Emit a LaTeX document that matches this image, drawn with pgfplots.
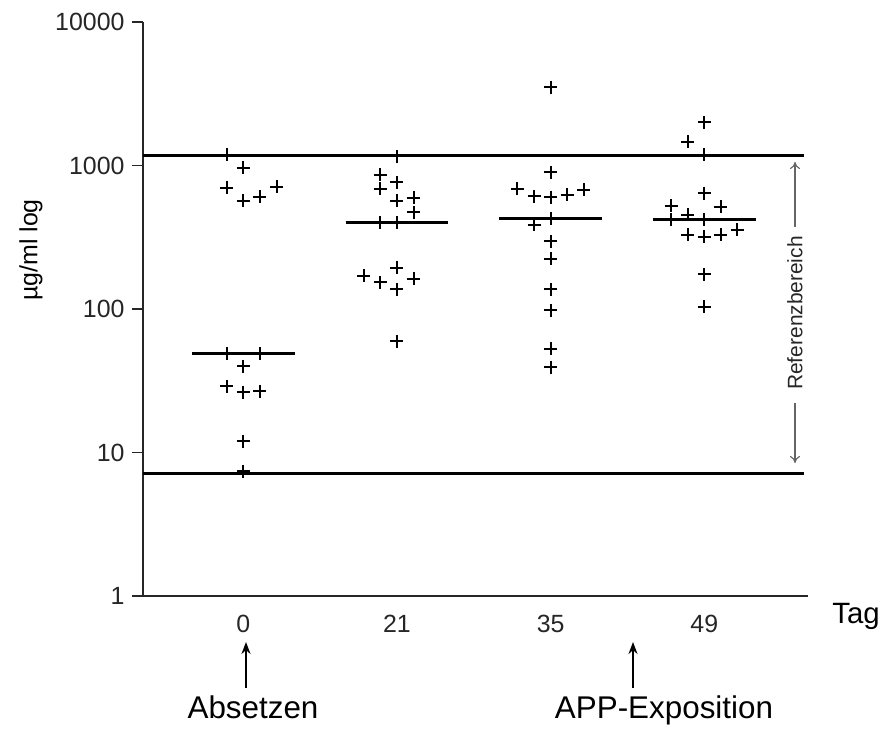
\documentclass[border=0pt]{standalone}
\usepackage{fontspec}
\setmainfont{Liberation Sans}
\usepackage{pgfplots}
\pgfplotsset{compat=1.18}
\usetikzlibrary{arrows.meta}

\begin{document}
\begin{tikzpicture}[x=1bp,y=1bp]
\useasboundingbox (0,0) rectangle (884,-729);
\begin{axis}[
  at={(143bp,-596bp)}, anchor=south west,
  scale only axis, width=665bp, height=574bp,
  xmin=0.347, xmax=4.675,
  ymode=log, ymin=1, ymax=10000,
  axis x line*=bottom, axis y line*=left,
  axis line style={line width=1.3bp, black!85},
  xtick={1,2,3,4}, xticklabels={0,21,35,49},
  major x tick style={draw=none},
  ytick={1,10,100,1000,10000}, yticklabels={1,10,100,1000,10000},
  yminorticks=false,
  tick align=outside, major tick length=11bp,
  every tick/.style={line width=1.3bp, black!85},
  tick label style={font=\fontsize{25}{29}\selectfont, text=black!85},
  /pgf/number format/assume math mode=true,
  xticklabel style={yshift=-5bp},
  yticklabel style={xshift=-4bp},
  clip=false,
]
% reference range lines
\addplot[no marks, line width=3bp] coordinates {(0.347,1165) (4.65,1165)};
\addplot[no marks, line width=3bp] coordinates {(0.347,7.1) (4.65,7.1)};
% medians
\addplot[no marks, line width=3bp] coordinates {(0.665,49) (1.335,49)};
\addplot[no marks, line width=3bp] coordinates {(1.665,398) (2.335,398)};
\addplot[no marks, line width=3bp] coordinates {(2.665,426) (3.335,426)};
\addplot[no marks, line width=3bp] coordinates {(3.665,420) (4.335,420)};
% day 0
\addplot[only marks, mark=+, mark size=6.5bp, mark options={line width=2bp}] coordinates {
(0.892,1188) (1,964) (0.892,700) (1,569) (1.108,607) (1.216,711) (0.892,49) (1.108,49) (1,39.8) (0.892,28.9) (1,26.3) (1.108,26.7) (1,12.0) (1,7.4)};
% day 21
\addplot[only marks, mark=+, mark size=6.5bp, mark options={line width=2bp}] coordinates {
(2,1156) (1.892,862) (2,762) (1.892,686) (2,569) (2.108,594) (2.108,471) (1.892,398) (2,398) (2,194) (1.784,171) (1.892,154) (2.108,162) (2,137) (2,59.7)};
% day 35
\addplot[only marks, mark=+, mark size=6.5bp, mark options={line width=2bp}] coordinates {
(3,3513) (3,895) (2.784,686) (2.892,609) (3,603) (3.108,626) (3.216,678) (3,426) (2.892,387) (3,296) (3,224) (3,137) (3,98) (3,53) (3,39.4)};
% day 49
\addplot[only marks, mark=+, mark size=6.5bp, mark options={line width=2bp}] coordinates {
(4,1994) (3.892,1469) (4,1188) (4,643) (3.784,525) (4.108,514) (3.784,420) (3.892,454) (4,420) (3.892,330) (4,318) (4.108,330) (4.216,357) (4,174) (4,104)};
\end{axis}
\node[rotate=90, font=\fontsize{25}{29}\selectfont] at (31,-250) {µg/ml log};
\node[anchor=base, font=\fontsize{29.5}{33}\selectfont] at (856,-623) {Tag};
\draw[line width=2.2bp, -{Stealth[length=12bp,width=9bp]}] (246,-688) -- (246,-642);
\node[anchor=base, font=\fontsize{31.5}{35}\selectfont] at (253,-718) {Absetzen};
\draw[line width=2.2bp, -{Stealth[length=12bp,width=9bp]}] (633,-688) -- (633,-642);
\node[anchor=base, font=\fontsize{31.5}{35}\selectfont] at (664,-718) {APP-Exposition};
\draw[black!60, line width=1.1bp, -{To[length=7bp,width=10bp]}] (795,-227) -- (795,-162);
\draw[black!60, line width=1.1bp, -{To[length=7bp,width=10bp]}] (795,-403) -- (795,-463);
\node[rotate=90, font=\fontsize{21}{24}\selectfont, text=black!85] at (795,-313) {Referenzbereich};
\end{tikzpicture}
\end{document}
